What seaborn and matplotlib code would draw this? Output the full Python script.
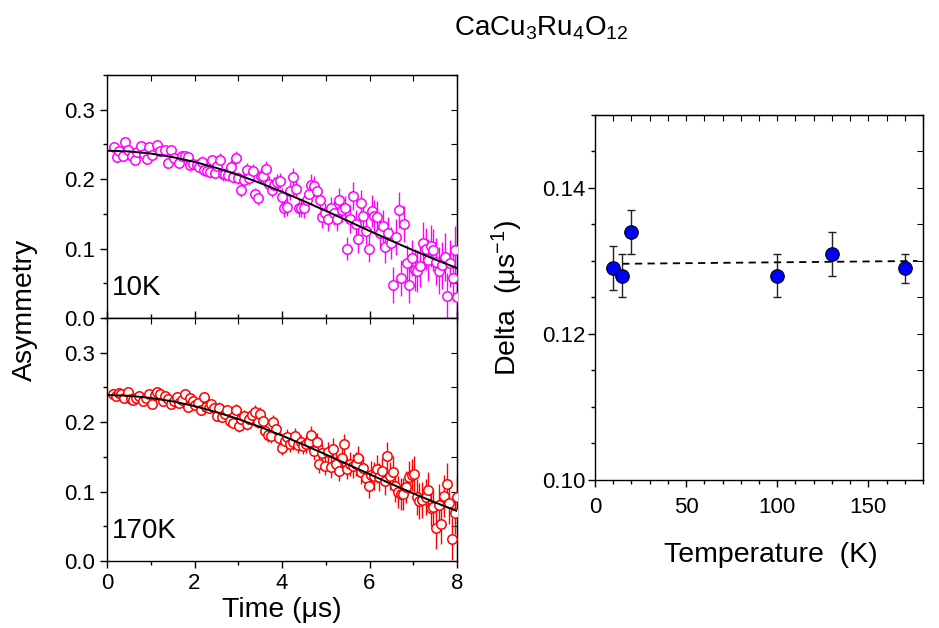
import numpy as np
import pandas as pd
import matplotlib
matplotlib.use('Agg')
import matplotlib.pyplot as plt
import seaborn as sns
from matplotlib.ticker import MultipleLocator, FormatStrFormatter


sns.set_style('ticks')
plt.rcParams['font.family'] = ['Liberation Sans', 'DejaVu Sans']
plt.rcParams['mathtext.fontset'] = 'custom'
plt.rcParams['mathtext.rm'] = 'Liberation Sans'
plt.rcParams['mathtext.it'] = 'Liberation Sans:italic'
plt.rcParams['mathtext.default'] = 'regular'
for k in ['text.color', 'axes.labelcolor', 'xtick.color', 'ytick.color', 'axes.edgecolor']:
    plt.rcParams[k] = 'black'


# 10K asymmetry spectrum
t_10k = [0.16, 0.22, 0.28, 0.36, 0.42, 0.48, 0.57, 0.65, 0.69, 0.78, 0.85, 0.91, 0.97, 1.03,
         1.15, 1.20, 1.33, 1.39, 1.47, 1.53, 1.65, 1.71, 1.78, 1.84, 1.90, 1.97, 2.05, 2.11,
         2.16, 2.22, 2.29, 2.35, 2.40, 2.46, 2.52, 2.58, 2.64, 2.70, 2.77, 2.83, 2.89, 2.95,
         2.99, 3.07, 3.13, 3.19, 3.25, 3.33, 3.39, 3.45, 3.51, 3.57, 3.63, 3.70, 3.76, 3.82,
         3.88, 3.95, 4.00, 4.05, 4.12, 4.18, 4.24, 4.32, 4.38, 4.44, 4.50, 4.56, 4.62, 4.67,
         4.73, 4.79, 4.87, 4.91, 4.99, 5.05, 5.13, 5.19, 5.25, 5.31, 5.37, 5.43, 5.49, 5.55,
         5.62, 5.68, 5.74, 5.80, 5.86, 5.92, 5.98, 6.06, 6.10, 6.16, 6.24, 6.30, 6.36, 6.42,
         6.48, 6.54, 6.61, 6.67, 6.73, 6.79, 6.85, 6.91, 6.97, 7.03, 7.09, 7.15, 7.22, 7.28,
         7.34, 7.40, 7.46, 7.52, 7.58, 7.66, 7.72, 7.78, 7.84, 7.90, 7.96, 7.99]
a_10k = [0.246, 0.232, 0.241, 0.233, 0.254, 0.242, 0.233, 0.227, 0.239, 0.248, 0.236, 0.229, 0.247, 0.235,
         0.249, 0.240, 0.242, 0.224, 0.242, 0.230, 0.223, 0.233, 0.234, 0.232, 0.221, 0.222, 0.221, 0.218,
         0.225, 0.213, 0.212, 0.210, 0.227, 0.209, 0.219, 0.228, 0.207, 0.207, 0.206, 0.218, 0.203, 0.231,
         0.202, 0.185, 0.199, 0.213, 0.201, 0.212, 0.178, 0.173, 0.205, 0.205, 0.215, 0.193, 0.185, 0.192,
         0.196, 0.198, 0.175, 0.158, 0.160, 0.183, 0.203, 0.186, 0.158, 0.158, 0.159, 0.170, 0.179, 0.192,
         0.190, 0.183, 0.170, 0.145, 0.151, 0.142, 0.158, 0.151, 0.143, 0.170, 0.155, 0.159, 0.100, 0.143,
         0.176, 0.136, 0.114, 0.165, 0.147, 0.126, 0.100, 0.154, 0.147, 0.146, 0.123, 0.133, 0.102, 0.122,
         0.108, 0.047, 0.117, 0.156, 0.058, 0.136, 0.079, 0.047, 0.087, 0.069, 0.068, 0.075, 0.108, 0.099,
         0.084, 0.104, 0.098, 0.081, 0.068, 0.076, 0.088, 0.031, 0.079, 0.058, 0.098, 0.030]

# 170K asymmetry spectrum
t_170k = [0.14, 0.21, 0.27, 0.33, 0.39, 0.48, 0.54, 0.60, 0.66, 0.72, 0.82, 0.88, 0.97, 1.03,
          1.09, 1.15, 1.21, 1.27, 1.33, 1.39, 1.46, 1.52, 1.59, 1.65, 1.71, 1.78, 1.84, 1.90,
          1.96, 2.02, 2.08, 2.14, 2.22, 2.26, 2.32, 2.38, 2.45, 2.51, 2.57, 2.63, 2.69, 2.75,
          2.81, 2.87, 2.95, 3.01, 3.07, 3.13, 3.19, 3.25, 3.31, 3.38, 3.44, 3.50, 3.56, 3.62,
          3.68, 3.74, 3.80, 3.86, 3.92, 4.00, 4.06, 4.12, 4.18, 4.24, 4.30, 4.37, 4.43, 4.49,
          4.55, 4.61, 4.67, 4.73, 4.79, 4.85, 4.91, 4.99, 5.05, 5.11, 5.17, 5.23, 5.30, 5.36,
          5.42, 5.48, 5.55, 5.62, 5.68, 5.74, 5.80, 5.86, 5.92, 5.98, 6.04, 6.10, 6.16, 6.22,
          6.29, 6.35, 6.41, 6.47, 6.53, 6.59, 6.65, 6.71, 6.77, 6.83, 6.90, 6.96, 7.02, 7.08,
          7.14, 7.20, 7.28, 7.34, 7.40, 7.46, 7.52, 7.58, 7.64, 7.70, 7.76, 7.82, 7.89, 7.95, 7.99]
a_170k = [0.241, 0.238, 0.242, 0.241, 0.235, 0.243, 0.233, 0.232, 0.235, 0.238, 0.231, 0.235, 0.241, 0.226,
          0.239, 0.243, 0.241, 0.231, 0.238, 0.234, 0.226, 0.231, 0.236, 0.228, 0.232, 0.241, 0.222, 0.235,
          0.230, 0.225, 0.228, 0.217, 0.236, 0.222, 0.221, 0.226, 0.221, 0.209, 0.221, 0.208, 0.212, 0.217,
          0.202, 0.199, 0.218, 0.195, 0.204, 0.209, 0.197, 0.204, 0.211, 0.215, 0.200, 0.212, 0.202, 0.187,
          0.182, 0.180, 0.200, 0.190, 0.177, 0.163, 0.173, 0.179, 0.168, 0.171, 0.180, 0.167, 0.171, 0.165,
          0.169, 0.172, 0.181, 0.159, 0.172, 0.140, 0.156, 0.137, 0.157, 0.135, 0.162, 0.140, 0.130, 0.148,
          0.168, 0.133, 0.140, 0.137, 0.140, 0.149, 0.128, 0.134, 0.120, 0.108, 0.124, 0.122, 0.132, 0.121,
          0.129, 0.115, 0.151, 0.122, 0.128, 0.108, 0.100, 0.097, 0.096, 0.107, 0.121, 0.124, 0.125, 0.092,
          0.087, 0.088, 0.092, 0.102, 0.076, 0.078, 0.047, 0.081, 0.054, 0.094, 0.111, 0.083, 0.032, 0.069, 0.092]

# error bar size per time window (upper edges of the windows)
err_edges = [0.5, 1.0, 1.5, 2.0, 2.5, 3.0, 3.5, 4.0, 4.5, 5.0, 5.5, 6.0, 6.5, 7.0, 7.5]
err_10k = [0.004, 0.005, 0.006, 0.007, 0.008, 0.009, 0.010, 0.011,
           0.013, 0.015, 0.017, 0.020, 0.023, 0.026, 0.030, 0.034]
err_170k = [0.004, 0.004, 0.005, 0.006, 0.007, 0.008, 0.009, 0.010,
            0.011, 0.013, 0.015, 0.017, 0.020, 0.023, 0.026, 0.030]

# fitted curves (Kubo-Toyabe)
fit_t = [0.0, 0.5, 1.0, 1.5, 2.0, 2.5, 3.0, 3.5, 4.0, 4.5, 5.0, 5.5, 6.0, 6.5, 7.0, 7.5, 8.0]
fit_10k = [0.2410, 0.2400, 0.2369, 0.2318, 0.2249, 0.2162, 0.2060, 0.1945, 0.1819,
           0.1684, 0.1544, 0.1400, 0.1255, 0.1113, 0.0975, 0.0843, 0.0719]
fit_170k = [0.2390, 0.2380, 0.2349, 0.2299, 0.2231, 0.2145, 0.2045, 0.1931, 0.1806,
            0.1673, 0.1535, 0.1393, 0.1250, 0.1109, 0.0973, 0.0843, 0.0720]

# Delta vs temperature
temps = [10, 15, 20, 100, 130, 170]
delta = [0.129, 0.128, 0.134, 0.128, 0.131, 0.129]
delta_err = [0.003, 0.003, 0.003, 0.003, 0.003, 0.002]
avg_T = [8, 177]
avg_delta = [0.1296, 0.1300]


fig = plt.figure(figsize=(9.39, 6.28), dpi=100)
ax1 = fig.add_axes([0.1140, 0.4936, 0.3727, 0.3869])
ax2 = fig.add_axes([0.1140, 0.1067, 0.3727, 0.3869])
ax3 = fig.add_axes([0.6337, 0.2357, 0.3493, 0.5812])

panels = [(ax1, t_10k, a_10k, err_10k, fit_10k, '#ff00ff', '10K'),
          (ax2, t_170k, a_170k, err_170k, fit_170k, '#ff0000', '170K')]

for ax, t, a, errs, fit, col, lab in panels:
    df = pd.DataFrame({'t': t, 'a': a})
    df['err'] = np.array(errs)[np.digitize(df['t'], err_edges)]
    ax.errorbar(df['t'], df['a'], yerr=df['err'], fmt='none', ecolor=col,
                elinewidth=1, capsize=0, zorder=2)
    sns.scatterplot(data=df, x='t', y='a', ax=ax, marker='o', s=46,
                    facecolor='white', edgecolor=col, linewidth=1.1, zorder=3)
    sns.lineplot(x=fit_t, y=fit, ax=ax, color='black', linewidth=1.4, zorder=4)
    ax.set_xlim(0, 8)
    ax.set_ylim(0, 0.35)
    ax.xaxis.set_major_locator(MultipleLocator(2))
    ax.xaxis.set_minor_locator(MultipleLocator(1))
    ax.yaxis.set_major_locator(MultipleLocator(0.1))
    ax.yaxis.set_minor_locator(MultipleLocator(0.05))
    ax.yaxis.set_major_formatter(FormatStrFormatter('%.1f'))
    ax.set_xlabel('')
    ax.set_ylabel('')
    ax.tick_params(axis='both', which='both', direction='out', labelsize=16, width=1)
    ax.tick_params(which='major', length=5)
    ax.tick_params(which='minor', length=3)
    ax.text(0.1, 0.025, lab, fontsize=20, ha='left', va='bottom')
    for sp in ax.spines.values():
        sp.set_visible(True)
        sp.set_linewidth(1)
    # inward ticks on the top and right frame
    sec_x = ax.secondary_xaxis('top')
    sec_y = ax.secondary_yaxis('right')
    sec_x.xaxis.set_major_locator(MultipleLocator(1))
    sec_y.yaxis.set_major_locator(MultipleLocator(0.05))
    sec_x.tick_params(direction='in', length=4, labeltop=False)
    sec_y.tick_params(direction='in', length=4, labelright=False)

ax1.tick_params(axis='x', which='both', direction='in', labelbottom=False)

# right panel
dfd = pd.DataFrame({'T': temps, 'delta': delta, 'err': delta_err})
ax3.errorbar(dfd['T'], dfd['delta'], yerr=dfd['err'], fmt='none', ecolor='#222222',
             elinewidth=1, capsize=3, capthick=1, zorder=2)
sns.lineplot(x=avg_T, y=avg_delta, ax=ax3, color='black', linewidth=1.3,
             linestyle=(0, (4, 3)), zorder=1)
sns.scatterplot(data=dfd, x='T', y='delta', ax=ax3, marker='o', s=95,
                color='#0000ff', edgecolor='black', linewidth=0.8, zorder=3)
ax3.set_xlim(0, 180)
ax3.set_ylim(0.10, 0.15)
ax3.xaxis.set_major_locator(MultipleLocator(50))
ax3.xaxis.set_minor_locator(MultipleLocator(10))
ax3.yaxis.set_major_locator(MultipleLocator(0.02))
ax3.yaxis.set_minor_locator(MultipleLocator(0.005))
ax3.yaxis.set_major_formatter(FormatStrFormatter('%.2f'))
ax3.tick_params(axis='both', which='both', direction='out', labelsize=16, width=1)
ax3.tick_params(which='major', length=5)
ax3.tick_params(which='minor', length=3)
ax3.tick_params(axis='x', pad=7)
ax3.tick_params(axis='y', pad=2)
for sp in ax3.spines.values():
    sp.set_visible(True)
    sp.set_linewidth(1)
sec_x = ax3.secondary_xaxis('top')
sec_y = ax3.secondary_yaxis('right')
sec_x.xaxis.set_major_locator(MultipleLocator(10))
sec_y.yaxis.set_major_locator(MultipleLocator(0.005))
sec_x.tick_params(direction='in', length=4, labeltop=False)
sec_y.tick_params(direction='in', length=4, labelright=False)
ax3.set_xlabel('Temperature  (K)', fontsize=20.5)
ax3.set_ylabel('Delta  (μs$^{-1}$)', fontsize=20.5, labelpad=12)
ax3.xaxis.set_label_coords(0.535, -0.17)

ax2.set_xlabel('Time (μs)', fontsize=20.5, labelpad=2)
fig.text(0.027, 0.507, 'Asymmetry', rotation=90, fontsize=20.5, ha='center', va='center')
fig.text(0.576, 0.955, 'CaCu$_3$Ru$_4$O$_{12}$', fontsize=20, ha='center', va='center')

fig.savefig('out.png', dpi=100)
